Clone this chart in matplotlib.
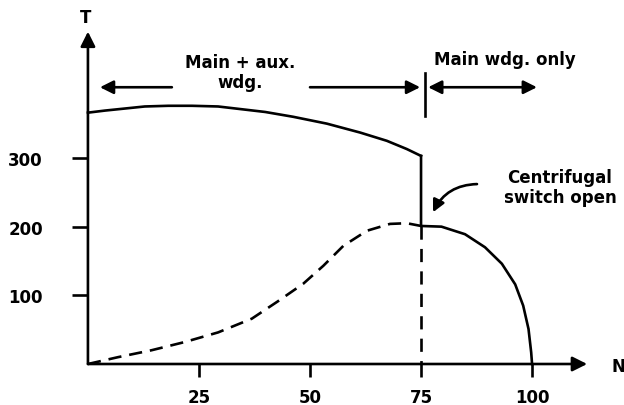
import matplotlib.pyplot as plt

plt.rcParams['font.family'] = ['DejaVu Sans']
plt.rcParams['font.weight'] = 'bold'

# speed N (%) and torque T
n_both = [0, 3.8, 8.3, 12.8, 18.1, 23.4, 29.3, 34.6, 39.9, 46.2, 53.8,
          61.3, 67.3, 71.8, 75]
t_both = [366, 369, 372, 375, 376, 376, 375, 371, 367, 360, 350,
          337, 325, 313, 303]

n_main = [75, 75, 79.6, 84.9, 89.4, 93.2, 96.2, 98, 99.2, 99.8, 100]
t_main = [303, 201, 200, 189, 170, 146, 116, 85, 51, 17, 0]

n_aux = [0, 6.8, 14.3, 21.8, 29.3, 36.9, 42.7, 48.5, 53, 57.5, 62.8,
         68, 71.8, 75]
t_aux = [0, 10, 20, 32, 46, 66, 91, 117, 143, 172, 194, 204, 205, 201]

n_switch = [75, 75]
t_switch = [201, 0]

xticks = [25, 50, 75, 100]
xlabels = ['25', '50', '75', '100']
yticks = [100, 200, 300]
ylabels = ['100', '200', '300']

fig = plt.figure(figsize=(6.24, 4.06), dpi=100)
ax = fig.add_axes([0, 0, 1, 1])
ax.set_xlim(-19.8, 120.7)
ax.set_ylim(-59.7, 531.5)

lw = 1.9
ax.plot(n_both, t_both, color='black', lw=lw, solid_joinstyle='round')
ax.plot(n_main, t_main, color='black', lw=lw, solid_joinstyle='round')
ax.plot(n_aux, t_aux, color='black', lw=lw, linestyle=(0, (5, 3)))
ax.plot(n_switch, t_switch, color='black', lw=lw, linestyle=(0, (5, 3.5)))

# axes with arrow heads
for s in ['top', 'right', 'left', 'bottom']:
    ax.spines[s].set_visible(False)
ax.spines['left'].set_position(('data', 0))
ax.spines['bottom'].set_position(('data', 0))
arr = dict(arrowstyle='-|>', lw=lw, color='black', mutation_scale=22,
           shrinkA=0, shrinkB=0)
ax.annotate('', xy=(112.4, 0), xytext=(0, 0), arrowprops=arr)
ax.annotate('', xy=(0, 484), xytext=(0, 0), arrowprops=arr)

ax.set_xticks(xticks, xlabels)
ax.set_yticks(yticks, ylabels)
ax.tick_params(axis='x', direction='out', length=9.4, width=lw, pad=8,
               labelsize=12)
ax.tick_params(axis='y', direction='out', length=11.5, width=lw, pad=21,
               labelsize=12)
for lab in ax.get_xticklabels() + ax.get_yticklabels():
    lab.set_fontweight('bold')

ax.text(-0.45, 505, 'T', ha='center', va='center', fontsize=12, fontweight='bold')
ax.text(117.8, -3, 'N', ha='left', va='center', fontsize=12, fontweight='bold')

# region labels
ax.text(34.2, 425, 'Main + aux.\nwdg.', ha='center', va='center',
        fontsize=12, fontweight='bold', linespacing=1.1)
ax.text(93.9, 444, 'Main wdg. only', ha='center', va='center',
        fontsize=12, fontweight='bold')
head = dict(arrowstyle='-|>', lw=lw, color='black', mutation_scale=20,
            shrinkA=0, shrinkB=0)
ax.annotate('', xy=(2.7, 403), xytext=(18.9, 403), arrowprops=head)
ax.annotate('', xy=(74.8, 403), xytext=(50, 403), arrowprops=head)
ax.plot([75.9, 75.9], [361, 424], color='black', lw=lw)
ax.annotate('', xy=(101.1, 403), xytext=(76.6, 403),
            arrowprops=dict(arrowstyle='<|-|>', lw=lw, color='black',
                            mutation_scale=20, shrinkA=0, shrinkB=0))

ax.annotate('', xy=(77.7, 221), xytext=(87.6, 262),
            arrowprops=dict(arrowstyle='-|>', lw=lw, color='black',
                            mutation_scale=18, shrinkA=0, shrinkB=0,
                            connectionstyle='arc3,rad=0.3'))
ax.text(106.3, 258, 'Centrifugal\nswitch open', ha='center', va='center',
        fontsize=12, fontweight='bold', linespacing=1.15)

fig.savefig('out.png', dpi=100)
